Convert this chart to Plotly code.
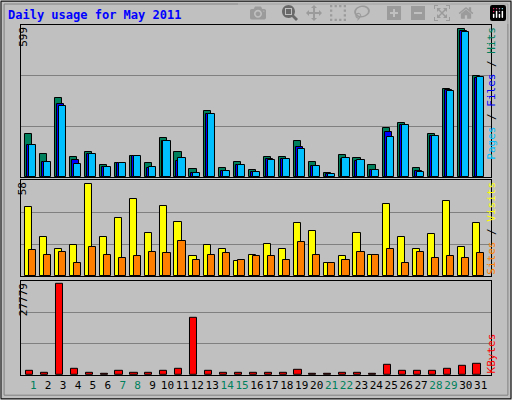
import plotly.graph_objects as go

days = list(range(1, 32))
hits = [171, 92, 313, 80, 100, 49, 57, 84, 57, 155, 100, 33, 259, 37, 61, 29,
        80, 80, 140, 61, 17, 88, 76, 49, 195, 211, 37, 171, 345, 582, 400]
files = [128, 61, 286, 68, 92, 41, 57, 84, 37, 140, 65, 17, 248, 25, 49, 21,
         72, 72, 120, 45, 13, 72, 65, 29, 179, 203, 25, 163, 341, 574, 392]
pages = [128, 61, 278, 53, 92, 41, 57, 84, 41, 140, 76, 17, 250, 25, 49, 21,
         68, 72, 112, 45, 13, 76, 68, 29, 159, 203, 21, 163, 337, 570, 396]
visits = [41.5, 23.5, 16.3, 18.7, 55.4, 23.5, 34.9, 46.4, 25.9, 42.1, 32.5, 12,
          18.7, 16.3, 9, 12.6, 19.3, 16.3, 31.9, 27.1, 7.8, 12, 25.9, 12.6,
          43.4, 23.5, 16.3, 25.3, 45.2, 17.5, 31.9]
sites = [15.7, 12.6, 14.5, 7.8, 17.5, 12.6, 10.8, 12, 14.5, 13.8, 21.1, 9.6,
         12.6, 13.8, 9.6, 12, 12, 9.6, 20.5, 12.6, 7.8, 9.6, 14.5, 12.6,
         16.3, 7.8, 14.5, 10.8, 12, 10.8, 13.8]
kbytes = [1174, 587, 26800, 1760, 587, 293, 1174, 587, 587, 1174, 1760, 17020,
          1174, 587, 587, 587, 587, 587, 1467, 293, 293, 587, 587, 293,
          2934, 1174, 1174, 1174, 1760, 2641, 3228]
weekend = [1, 7, 8, 14, 15, 21, 22, 28, 29]
max_hits, max_visits, max_kb = 599, 58, 27779

FONT = "DejaVu Sans Mono"
tick_text = [f"<span style='color:#00805c'>{d}</span>" if d in weekend else str(d)
             for d in days]

fig = go.Figure()


def bars(y, color, offset, yaxis, name):
    fig.add_trace(go.Bar(x=days, y=y, offset=offset, width=0.48, name=name,
                         marker=dict(color=color, line=dict(color="black", width=1)),
                         xaxis="x" if yaxis == "y" else "x" + yaxis[1:], yaxis=yaxis))


bars(hits, "#00805c", -0.53, "y", "Hits")
bars(files, "#0000ff", -0.40, "y", "Files")
bars(pages, "#00c0ff", -0.27, "y", "Pages")
bars(visits, "#ffff00", -0.53, "y2", "Visits")
bars(sites, "#ff8000", -0.27, "y2", "Sites")
bars(kbytes, "#ff0000", -0.49, "y3", "KBytes")

xr = [0.18, 31.69]
xcommon = dict(range=xr, showgrid=False, showline=True, linecolor="black",
               mirror=True, fixedrange=True, zeroline=False, automargin=False)
ycommon = dict(showline=True, linecolor="black", mirror=True, showticklabels=False,
               ticks="", gridcolor="#808080", gridwidth=1, zeroline=False,
               automargin=False)

fig.update_layout(
    width=512, height=400, margin=dict(l=0, r=0, t=0, b=0),
    paper_bgcolor="#c0c0c0", plot_bgcolor="#c0c0c0",
    barmode="overlay", showlegend=False, bargap=0,
    font=dict(family=FONT, size=11, color="black"),
    xaxis=dict(**xcommon, domain=[0.041, 0.959], anchor="y", showticklabels=False),
    xaxis2=dict(**xcommon, domain=[0.041, 0.959], anchor="y2", showticklabels=False),
    xaxis3=dict(**xcommon, domain=[0.041, 0.959], anchor="y3", tickmode="array",
                tickvals=days, ticktext=tick_text, ticks="", tickangle=0,
                tickfont=dict(size=11)),
    yaxis=dict(**ycommon, domain=[0.5575, 0.9375], range=[0, max_hits],
               tickvals=[max_hits / 3, 2 * max_hits / 3], anchor="x"),
    yaxis2=dict(**ycommon, domain=[0.309, 0.55], range=[0, max_visits],
                tickvals=[max_visits / 3, 2 * max_visits / 3], anchor="x2"),
    yaxis3=dict(**ycommon, domain=[0.062, 0.298], range=[0, max_kb],
                tickvals=[max_kb / 3, 2 * max_kb / 3], anchor="x3"),
)

ann = [
    dict(x=0.012, y=0.962, text="<b>Daily usage for May 2011</b>", showarrow=False,
         xanchor="left", yanchor="middle", font=dict(color="#0000ff", size=12)),
    dict(x=0.028, y=0.9375, text=str(max_hits), textangle=-90, yanchor="top"),
    dict(x=0.028, y=0.55, text=str(max_visits), textangle=-90, yanchor="top"),
    dict(x=0.028, y=0.298, text=str(max_kb), textangle=-90, yanchor="top"),
    dict(x=0.976, y=0.9375, yanchor="top", textangle=-90,
         text="<span style='color:#00c0ff'>Pages</span> / "
              "<span style='color:#0000ff'>Files</span> / "
              "<span style='color:#00805c'>Hits</span>"),
    dict(x=0.976, y=0.55, yanchor="top", textangle=-90,
         text="<span style='color:#ff8000'>Sites</span> / "
              "<span style='color:#ffff00'>Visits</span>"),
    dict(x=0.976, y=0.062, yanchor="bottom", textangle=-90,
         text="<span style='color:#ff0000'>KBytes</span>"),
]
for a in ann:
    a.setdefault("showarrow", False)
    a.setdefault("xref", "paper")
    a.setdefault("yref", "paper")
    a.setdefault("font", dict(size=11, color="black"))
    fig.add_annotation(**a)

fig.add_shape(type="rect", xref="paper", yref="paper", x0=0.002, y0=0.003,
              x1=0.998, y1=0.997, line=dict(color="black", width=1))
fig.add_shape(type="rect", xref="paper", yref="paper", x0=0.008, y0=0.012,
              x1=0.992, y1=0.99, line=dict(color="#808080", width=1))

fig.write_html("out.html", post_script="document.body.style.margin='0';")
